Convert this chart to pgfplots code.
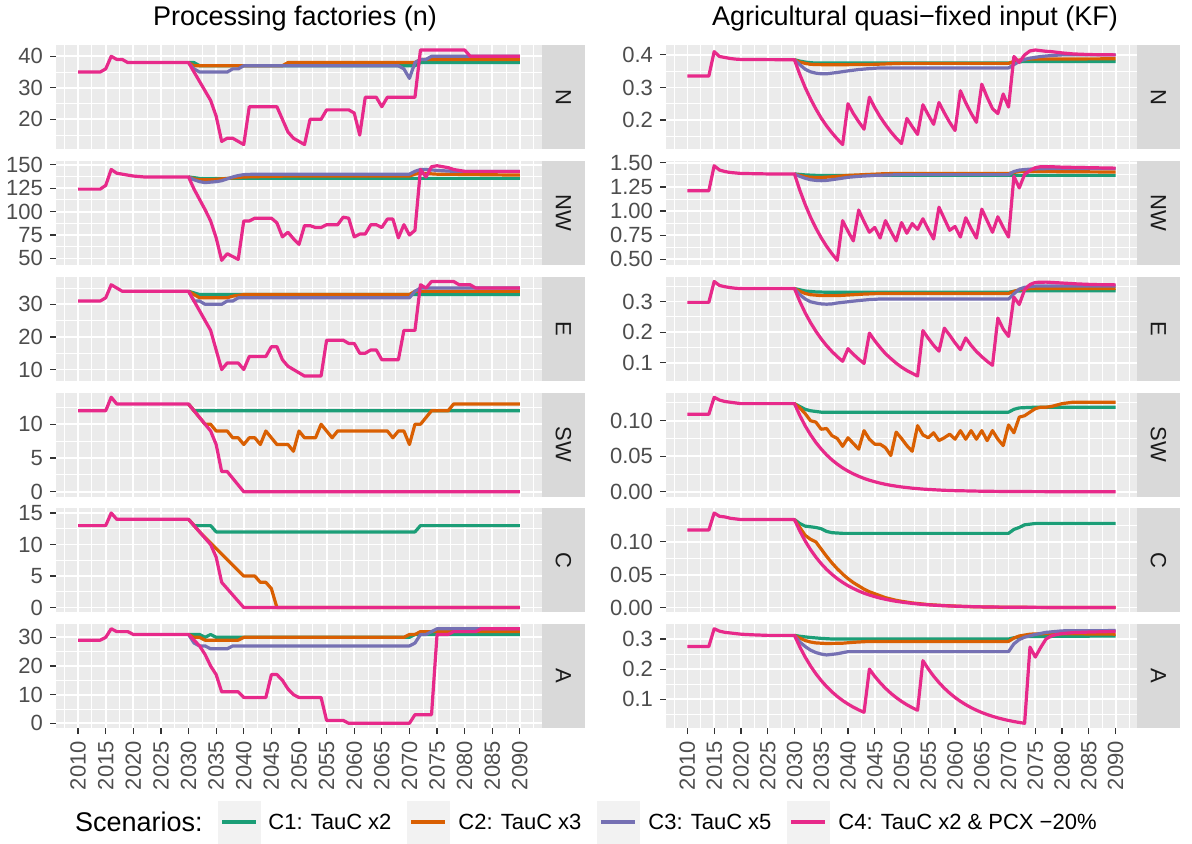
\documentclass[border=0pt]{standalone}
\usepackage{fontspec}
\setmainfont{Liberation Sans}
\usepackage{pgfplots}
\pgfplotsset{compat=1.18}
\definecolor{cOne}{HTML}{1B9E77}
\definecolor{cTwo}{HTML}{D95F02}
\definecolor{cThree}{HTML}{7570B3}
\definecolor{cFour}{HTML}{E7298A}
\definecolor{panelbg}{HTML}{EBEBEB}
\definecolor{stripbg}{HTML}{D9D9D9}
\definecolor{ticklab}{HTML}{4D4D4D}
\definecolor{tickcol}{HTML}{333333}
\definecolor{striptext}{HTML}{1A1A1A}
\definecolor{keybg}{HTML}{F2F2F2}
\newcommand{\tl}{\fontsize{11}{13.2}\selectfont}
\newcommand{\ttl}{\fontsize{13.5}{16}\selectfont}
\pgfplotsset{
  panel/.style={
    scale only axis, anchor=north west,
    xmin=2006, xmax=2094, enlarge x limits=false,
    enlarge y limits=0.05,
    xtick={2010,2015,...,2090},
    minor xtick={2007.5,2012.5,...,2092.5},
    axis background/.style={fill=panelbg},
    axis line style={draw=none},
    grid=both,
    major grid style={white, line width=0.9pt},
    minor grid style={white, line width=0.45pt},
    tick align=outside,
    major tick length=3pt, minor tick length=0pt,
    ytick pos=left, xtick pos=bottom,
    every tick/.style={tickcol, line width=0.6pt},
    yticklabel style={font=\tl, text=ticklab},
    xticklabel style={font=\tl, text=ticklab, rotate=90, anchor=east},
    xticklabels={},
    every axis plot/.append style={line width=1.6pt, line join=round, no marks},
  },
  upper/.style={xtick style={draw=none}},
  bottomrow/.style={xticklabels={2010,2015,2020,2025,2030,2035,2040,2045,2050,2055,2060,2065,2070,2075,2080,2085,2090}},
  L/.style={panel, width=243pt, height=52pt},
  R/.style={panel, width=235.5pt, height=52pt},
  s1/.style={color=cOne}, s2/.style={color=cTwo}, s3/.style={color=cThree}, s4/.style={color=cFour},
}
\begin{document}
\begin{tikzpicture}
\path[use as bounding box] (0,0) rectangle (596pt,-421.5pt);

% ================= LEFT COLUMN =================
% N
\begin{axis}[L, upper, at={(28pt,-22.625pt)}, ytick={20,30,40}, yticklabels={20,30,40}, minor ytick={15,25,35}]
\addplot[s1] coordinates {(2030,38)(2031,38)(2032,37)(2071,37)(2072,38)(2090,38)};
\addplot[s2] coordinates {(2030,38)(2031,37)(2047,37)(2048,38)(2071,38)(2072,39)(2090,39)};
\addplot[s3] coordinates {(2030,38)(2031,36)(2032,35)(2037,35)(2038,36)(2039,36)(2040,37)(2068,37)(2069,36)(2070,33)(2071,38)(2072,39)(2073,39)(2074,40)(2090,40)};
\addplot[s4] coordinates {(2010,35)(2014,35)(2015,36)(2016,40)(2017,39)(2018,39)(2019,38)(2030,38)(2031,35)(2032,32)(2033,29)(2034,26)(2035,21)(2036,13)(2037,14)(2038,14)(2039,13)(2040,12)(2041,24)(2046,24)(2047,20)(2048,16)(2049,14)(2050,13)(2051,12)(2052,20)(2054,20)(2055,23)(2059,23)(2060,22)(2061,15)(2062,27)(2064,27)(2065,24)(2066,27)(2071,27)(2072,42)(2080,42)(2081,40)(2090,40)};
\end{axis}
% NW
\begin{axis}[L, upper, at={(28pt,-80.5pt)}, ytick={50,75,100,125,150}, yticklabels={50,75,100,125,150}, minor ytick={62.5,87.5,112.5,137.5}]
\addplot[s1] coordinates {(2030,137)(2032,135.5)(2090,135.5)};
\addplot[s2] coordinates {(2030,137)(2031,135)(2032,134)(2034,134)(2036,135)(2038,136)(2040,137)(2048,138)(2070,138)(2071,140)(2072,141)(2075,140)(2090,139)};
\addplot[s3] coordinates {(2030,137)(2031,134)(2032,132)(2033,131)(2034,131.5)(2035,132)(2036,133)(2037,135)(2038,137)(2039,138.5)(2040,139.5)(2042,140)(2070,140)(2071,143)(2072,145)(2073,145)(2075,144)(2078,143)(2090,143)};
\addplot[s4] coordinates {(2010,124)(2014,124)(2015,128)(2016,145)(2017,141)(2018,140)(2019,139)(2020,138)(2022,137)(2030,137)(2031,124)(2032,113)(2033,102)(2034,90)(2035,72)(2036,48)(2037,55)(2038,52)(2039,49)(2040,90)(2041,90)(2042,93)(2045,93)(2046,88)(2047,73)(2048,78)(2049,71)(2050,65)(2051,85)(2052,85)(2053,83)(2054,83)(2055,86)(2057,86)(2058,94)(2059,93)(2060,73)(2061,76)(2062,76)(2063,86)(2064,86)(2065,83)(2066,92)(2067,92)(2068,72)(2069,86)(2070,75)(2071,80)(2072,145)(2073,137)(2074,148)(2075,149)(2076,148)(2077,147)(2078,145)(2079,144)(2080,143)(2090,143)};
\end{axis}
% E
\begin{axis}[L, upper, at={(28pt,-138.375pt)}, ytick={10,20,30}, yticklabels={10,20,30}, minor ytick={15,25,35}]
\addplot[s1] coordinates {(2030,34)(2031,33.5)(2032,33)(2090,33)};
\addplot[s2] coordinates {(2030,34)(2031,33)(2032,32)(2037,32)(2038,32.5)(2040,33)(2070,33)(2071,34)(2090,34)};
\addplot[s3] coordinates {(2030,34)(2031,31)(2032,31)(2033,30)(2036,30)(2037,31)(2038,31)(2039,32)(2070,32)(2071,34)(2072,35)(2090,35)};
\addplot[s4] coordinates {(2010,31)(2014,31)(2015,32)(2016,36)(2017,35)(2018,34)(2030,34)(2031,31)(2032,28)(2033,25)(2034,22)(2035,16)(2036,10)(2037,12)(2039,12)(2040,10)(2041,14)(2044,14)(2045,17)(2046,17)(2047,13)(2048,11)(2049,10)(2050,9)(2051,8)(2054,8)(2055,19)(2058,19)(2059,18)(2060,18)(2061,15)(2062,15)(2063,16)(2064,16)(2065,13)(2068,13)(2069,22)(2071,22)(2072,36)(2073,35)(2074,37)(2078,37)(2079,36)(2081,36)(2082,35)(2090,35)};
\end{axis}
% SW
\begin{axis}[L, upper, at={(28pt,-196.25pt)}, ytick={0,5,10}, yticklabels={0,5,10}, minor ytick={2.5,7.5,12.5}]
\addplot[s1] coordinates {(2030,13)(2031,12)(2090,12)};
\addplot[s2] coordinates {(2030,13)(2031,12)(2032,11)(2033,10)(2034,10)(2035,9)(2037,9)(2038,8)(2039,8)(2040,7)(2041,8)(2042,8)(2043,7)(2044,9)(2045,8)(2046,7)(2048,7)(2049,6)(2050,9)(2051,8)(2053,8)(2054,10)(2055,9)(2056,8)(2057,9)(2066,9)(2067,8)(2068,9)(2069,9)(2070,7)(2071,10)(2072,10)(2073,11)(2074,12)(2077,12)(2078,13)(2090,13)};
\addplot[s4] coordinates {(2010,12)(2015,12)(2016,14)(2017,13)(2030,13)(2031,12)(2032,11)(2033,10)(2034,9)(2035,7)(2036,3)(2037,3)(2038,2)(2039,1)(2040,0)(2090,0)};
\end{axis}
% C
\begin{axis}[L, upper, at={(28pt,-254.125pt)}, ytick={0,5,10,15}, yticklabels={0,5,10,15}, minor ytick={2.5,7.5,12.5}]
\addplot[s1] coordinates {(2030,14)(2031,13)(2034,13)(2035,12)(2071,12)(2072,13)(2090,13)};
\addplot[s2] coordinates {(2030,14)(2031,13)(2032,12)(2040,5)(2042,5)(2043,4)(2044,4)(2045,3)(2046,0)(2090,0)};
\addplot[s4] coordinates {(2010,13)(2015,13)(2016,15)(2017,14)(2030,14)(2031,13)(2032,12)(2033,11)(2034,10)(2035,8)(2036,4)(2037,3)(2038,2)(2039,1)(2040,0)(2090,0)};
\end{axis}
% A
\begin{axis}[L, bottomrow, at={(28pt,-312pt)}, ytick={0,10,20,30}, yticklabels={0,10,20,30}, minor ytick={5,15,25}]
\addplot[s1] coordinates {(2030,31)(2032,31)(2033,30)(2034,31)(2035,30)(2070,30)(2071,31)(2090,31)};
\addplot[s2] coordinates {(2030,31)(2031,30)(2032,30)(2033,29)(2039,29)(2040,30)(2069,30)(2070,31)(2071,31)(2072,32)(2090,32)};
\addplot[s3] coordinates {(2030,31)(2031,28)(2032,27)(2033,27)(2034,26)(2037,26)(2038,27)(2070,27)(2071,28)(2072,31)(2073,31)(2074,32)(2075,33)(2090,33)};
\addplot[s4] coordinates {(2010,29)(2014,29)(2015,30)(2016,33)(2017,32)(2019,32)(2020,31)(2030,31)(2031,29)(2032,27)(2033,24)(2034,20)(2035,17)(2036,11)(2039,11)(2040,9)(2044,9)(2045,17)(2046,17)(2047,15)(2048,12)(2049,10)(2050,9)(2054,9)(2055,1)(2058,1)(2059,0)(2070,0)(2071,3)(2074,3)(2075,31)(2077,31)(2078,32)(2082,32)(2083,33)(2090,33)};
\end{axis}

% ================= RIGHT COLUMN =================
% N
\begin{axis}[R, upper, at={(333pt,-22.625pt)}, ytick={0.2,0.3,0.4}, yticklabels={0.2,0.3,0.4}, minor ytick={0.15,0.25,0.35}]
\addplot[s1] coordinates {(2030,0.385)(2031,0.381)(2032,0.378)(2033,0.376)(2034,0.375)(2070,0.375)(2071,0.377)(2072,0.379)(2074,0.38)(2090,0.38)};
\addplot[s2] coordinates {(2030,0.385)(2031,0.378)(2032,0.374)(2033,0.371)(2035,0.37)(2040,0.37)(2045,0.371)(2048,0.373)(2050,0.374)(2070,0.374)(2071,0.38)(2072,0.384)(2074,0.387)(2090,0.388)};
\addplot[s3] coordinates {(2030,0.385)(2031,0.37)(2032,0.356)(2033,0.348)(2034,0.344)(2035,0.342)(2036,0.342)(2037,0.344)(2038,0.346)(2040,0.351)(2042,0.355)(2044,0.358)(2046,0.36)(2070,0.36)(2071,0.37)(2072,0.38)(2073,0.386)(2074,0.39)(2076,0.395)(2078,0.398)(2080,0.4)(2090,0.4)};
\addplot[s4] coordinates {(2010,0.335)(2014,0.335)(2015,0.41)(2016,0.395)(2017,0.392)(2018,0.389)(2019,0.387)(2020,0.386)(2030,0.385)(2031,0.340)(2032,0.300)(2033,0.265)(2034,0.234)(2035,0.206)(2036,0.182)(2037,0.161)(2038,0.142)(2039,0.125)(2040,0.25)(2041,0.22)(2042,0.195)(2043,0.172)(2044,0.27)(2045,0.238)(2046,0.21)(2047,0.186)(2048,0.164)(2049,0.145)(2050,0.128)(2051,0.205)(2052,0.18)(2053,0.156)(2054,0.247)(2055,0.216)(2056,0.187)(2057,0.254)(2058,0.222)(2059,0.193)(2060,0.168)(2061,0.29)(2062,0.253)(2063,0.221)(2064,0.193)(2065,0.31)(2066,0.27)(2067,0.235)(2068,0.22)(2069,0.28)(2070,0.24)(2071,0.395)(2072,0.377)(2073,0.40)(2074,0.412)(2075,0.415)(2076,0.413)(2077,0.411)(2078,0.41)(2079,0.408)(2080,0.406)(2082,0.403)(2085,0.401)(2090,0.4)};
\end{axis}
% NW
\begin{axis}[R, upper, at={(333pt,-80.5pt)}, ytick={0.5,0.75,1,1.25,1.5}, yticklabels={0.50,0.75,1.00,1.25,1.50}, minor ytick={0.625,0.875,1.125,1.375}]
\addplot[s1] coordinates {(2030,1.385)(2031,1.38)(2032,1.375)(2034,1.37)(2090,1.37)};
\addplot[s2] coordinates {(2030,1.385)(2031,1.37)(2032,1.358)(2033,1.35)(2035,1.348)(2037,1.355)(2040,1.37)(2044,1.38)(2047,1.388)(2050,1.39)(2070,1.39)(2071,1.40)(2072,1.41)(2075,1.41)(2090,1.405)};
\addplot[s3] coordinates {(2030,1.385)(2031,1.36)(2032,1.34)(2033,1.325)(2034,1.318)(2035,1.315)(2036,1.318)(2037,1.325)(2038,1.333)(2040,1.35)(2042,1.36)(2045,1.37)(2050,1.378)(2070,1.378)(2071,1.41)(2072,1.425)(2074,1.435)(2077,1.44)(2090,1.44)};
\addplot[s4] coordinates {(2010,1.21)(2014,1.21)(2015,1.47)(2016,1.425)(2017,1.41)(2018,1.40)(2019,1.395)(2020,1.39)(2025,1.385)(2030,1.385)(2031,1.216)(2032,1.068)(2033,0.937)(2034,0.823)(2035,0.722)(2036,0.634)(2037,0.557)(2038,0.489)(2039,0.90)(2040,0.79)(2041,0.69)(2042,1.01)(2043,0.89)(2044,0.78)(2045,0.83)(2046,0.72)(2047,0.90)(2048,0.79)(2049,0.69)(2050,0.88)(2051,0.77)(2052,0.87)(2053,0.81)(2054,0.92)(2055,0.81)(2056,0.71)(2057,1.04)(2058,0.92)(2059,0.80)(2060,0.84)(2061,0.73)(2062,0.93)(2063,0.82)(2064,0.72)(2065,1.02)(2066,0.90)(2067,0.78)(2068,0.94)(2069,0.83)(2070,0.73)(2071,1.36)(2072,1.24)(2073,1.38)(2074,1.42)(2075,1.45)(2076,1.46)(2078,1.46)(2080,1.455)(2085,1.45)(2090,1.445)};
\end{axis}
% E
\begin{axis}[R, upper, at={(333pt,-138.375pt)}, ytick={0.1,0.2,0.3}, yticklabels={0.1,0.2,0.3}, minor ytick={0.15,0.25,0.35}]
\addplot[s1] coordinates {(2030,0.342)(2031,0.338)(2032,0.334)(2034,0.331)(2036,0.33)(2070,0.33)(2071,0.333)(2073,0.335)(2090,0.335)};
\addplot[s2] coordinates {(2030,0.342)(2031,0.333)(2032,0.326)(2033,0.322)(2035,0.319)(2038,0.319)(2040,0.321)(2043,0.324)(2046,0.326)(2070,0.326)(2071,0.333)(2072,0.338)(2074,0.342)(2090,0.342)};
\addplot[s3] coordinates {(2030,0.342)(2031,0.322)(2032,0.308)(2033,0.299)(2034,0.295)(2035,0.292)(2036,0.291)(2037,0.292)(2038,0.295)(2040,0.299)(2042,0.303)(2044,0.306)(2046,0.308)(2070,0.308)(2071,0.325)(2072,0.34)(2073,0.346)(2075,0.35)(2090,0.35)};
\addplot[s4] coordinates {(2010,0.297)(2014,0.297)(2015,0.365)(2016,0.352)(2017,0.348)(2018,0.345)(2019,0.343)(2020,0.342)(2030,0.342)(2031,0.300)(2032,0.263)(2033,0.231)(2034,0.203)(2035,0.178)(2036,0.156)(2037,0.137)(2038,0.120)(2039,0.105)(2040,0.146)(2041,0.128)(2042,0.112)(2043,0.098)(2044,0.197)(2045,0.172)(2046,0.150)(2047,0.130)(2048,0.114)(2049,0.099)(2050,0.086)(2051,0.075)(2052,0.066)(2053,0.057)(2054,0.205)(2055,0.180)(2056,0.157)(2057,0.138)(2058,0.213)(2059,0.190)(2060,0.165)(2061,0.143)(2062,0.181)(2063,0.157)(2064,0.137)(2065,0.120)(2066,0.105)(2067,0.092)(2068,0.246)(2069,0.210)(2070,0.186)(2071,0.314)(2072,0.290)(2073,0.338)(2074,0.355)(2075,0.362)(2077,0.363)(2080,0.36)(2083,0.357)(2086,0.355)(2090,0.354)};
\end{axis}
% SW
\begin{axis}[R, upper, at={(333pt,-196.25pt)}, ytick={0,0.05,0.1}, yticklabels={0.00,0.05,0.10}, minor ytick={0.025,0.075,0.125}]
\addplot[s1] coordinates {(2030,0.124)(2031,0.12)(2032,0.116)(2033,0.114)(2035,0.112)(2070,0.112)(2071,0.116)(2072,0.118)(2075,0.119)(2090,0.119)};
\addplot[s2] coordinates {(2030,0.124)(2031,0.118)(2032,0.11)(2033,0.10)(2034,0.098)(2035,0.088)(2036,0.089)(2037,0.079)(2038,0.075)(2039,0.064)(2040,0.076)(2041,0.068)(2042,0.06)(2043,0.086)(2044,0.074)(2045,0.067)(2046,0.067)(2047,0.062)(2048,0.051)(2049,0.084)(2050,0.075)(2051,0.065)(2052,0.057)(2053,0.093)(2054,0.080)(2055,0.076)(2056,0.083)(2057,0.072)(2058,0.076)(2059,0.081)(2060,0.074)(2061,0.086)(2062,0.074)(2063,0.086)(2064,0.074)(2065,0.086)(2066,0.072)(2067,0.086)(2068,0.074)(2069,0.065)(2070,0.094)(2071,0.083)(2072,0.105)(2073,0.107)(2074,0.112)(2075,0.117)(2076,0.119)(2077,0.119)(2078,0.12)(2079,0.122)(2080,0.124)(2082,0.126)(2090,0.126)};
\addplot[s4] coordinates {(2010,0.109)(2014,0.109)(2015,0.133)(2016,0.129)(2017,0.127)(2018,0.126)(2019,0.125)(2020,0.124)(2030,0.124)(2031,0.1073)(2032,0.0928)(2033,0.0803)(2034,0.0694)(2035,0.0601)(2036,0.0519)(2037,0.0449)(2038,0.0389)(2039,0.0336)(2040,0.0291)(2041,0.0252)(2042,0.0218)(2043,0.0188)(2044,0.0163)(2045,0.0141)(2046,0.0122)(2047,0.0105)(2048,0.0091)(2049,0.0079)(2050,0.0068)(2052,0.0051)(2054,0.0038)(2056,0.0029)(2058,0.0021)(2060,0.0016)(2065,0.0008)(2070,0.0004)(2080,0.0001)(2090,0)};
\end{axis}
% C
\begin{axis}[R, upper, at={(333pt,-254.125pt)}, ytick={0,0.05,0.1}, yticklabels={0.00,0.05,0.10}, minor ytick={0.025,0.075,0.125}]
\addplot[s1] coordinates {(2030,0.134)(2031,0.128)(2032,0.124)(2034,0.122)(2035,0.12)(2036,0.116)(2037,0.114)(2039,0.113)(2070,0.113)(2071,0.119)(2072,0.122)(2073,0.126)(2075,0.128)(2090,0.128)};
\addplot[s2] coordinates {(2030,0.134)(2031,0.122)(2032,0.11)(2033,0.104)(2034,0.10)(2035,0.089)(2036,0.078)(2037,0.068)(2038,0.059)(2039,0.051)(2040,0.044)(2041,0.038)(2042,0.033)(2043,0.028)(2044,0.024)(2045,0.021)(2046,0.018)(2047,0.015)(2048,0.013)(2049,0.011)(2050,0.0095)(2052,0.007)(2055,0.0045)(2058,0.003)(2062,0.0015)(2066,0.0008)(2070,0.0004)(2080,0.0001)(2090,0)};
\addplot[s4] coordinates {(2010,0.118)(2014,0.118)(2015,0.144)(2016,0.139)(2017,0.138)(2018,0.136)(2019,0.135)(2020,0.134)(2030,0.134)(2031,0.1166)(2032,0.1014)(2033,0.0882)(2034,0.0768)(2035,0.0668)(2036,0.0581)(2037,0.0506)(2038,0.0440)(2039,0.0383)(2040,0.0333)(2041,0.0290)(2042,0.0252)(2043,0.0219)(2044,0.0191)(2045,0.0166)(2046,0.0144)(2047,0.0126)(2048,0.0109)(2049,0.0095)(2050,0.0083)(2052,0.0063)(2054,0.0047)(2056,0.0036)(2058,0.0027)(2060,0.0021)(2065,0.0010)(2070,0.0005)(2080,0.0001)(2090,0)};
\end{axis}
% A
\begin{axis}[R, bottomrow, at={(333pt,-312pt)}, ytick={0.1,0.2,0.3}, yticklabels={0.1,0.2,0.3}, minor ytick={0.05,0.15,0.25}]
\addplot[s1] coordinates {(2030,0.312)(2031,0.309)(2033,0.305)(2035,0.302)(2037,0.30)(2070,0.30)(2071,0.304)(2073,0.308)(2090,0.31)};
\addplot[s2] coordinates {(2030,0.312)(2031,0.303)(2032,0.295)(2033,0.29)(2034,0.287)(2036,0.285)(2039,0.286)(2041,0.289)(2044,0.292)(2070,0.292)(2071,0.303)(2072,0.31)(2074,0.316)(2077,0.318)(2090,0.316)};
\addplot[s3] coordinates {(2030,0.312)(2031,0.29)(2032,0.275)(2033,0.263)(2034,0.255)(2035,0.25)(2036,0.247)(2037,0.249)(2038,0.251)(2040,0.258)(2070,0.258)(2071,0.284)(2072,0.298)(2073,0.306)(2075,0.315)(2077,0.322)(2080,0.327)(2090,0.328)};
\addplot[s4] coordinates {(2010,0.275)(2014,0.275)(2015,0.334)(2016,0.326)(2017,0.322)(2018,0.32)(2019,0.318)(2020,0.316)(2022,0.314)(2025,0.312)(2030,0.312)(2031,0.2736)(2032,0.2400)(2033,0.2104)(2034,0.1846)(2035,0.1619)(2036,0.1420)(2037,0.1245)(2038,0.1092)(2039,0.0957)(2040,0.0840)(2041,0.0736)(2042,0.0646)(2043,0.0566)(2044,0.200)(2045,0.176)(2046,0.1549)(2047,0.1363)(2048,0.1199)(2049,0.1055)(2050,0.0929)(2051,0.0817)(2052,0.0719)(2053,0.0633)(2054,0.228)(2055,0.2006)(2056,0.1766)(2057,0.1554)(2058,0.1367)(2059,0.1203)(2060,0.1059)(2061,0.0932)(2062,0.0820)(2063,0.0721)(2064,0.0635)(2065,0.0559)(2066,0.0492)(2067,0.0433)(2068,0.0381)(2069,0.0335)(2070,0.0295)(2071,0.0259)(2072,0.0228)(2073,0.0201)(2074,0.273)(2075,0.240)(2076,0.272)(2077,0.300)(2078,0.310)(2079,0.315)(2080,0.318)(2082,0.321)(2085,0.323)(2090,0.325)};
\end{axis}

% ================= STRIPS =================
\foreach \t/\lab in {22.625/N, 80.5/NW, 138.375/E, 196.25/SW, 254.125/C, 312/A}{
  \fill[stripbg] (271pt,-\t pt) rectangle (292.5pt,-\t pt-52pt);
  \fill[stripbg] (568.5pt,-\t pt) rectangle (590pt,-\t pt-52pt);
  \node[rotate=-90, text=striptext, font=\tl] at (281.75pt,-\t pt-26pt) {\lab};
  \node[rotate=-90, text=striptext, font=\tl] at (579.25pt,-\t pt-26pt) {\lab};
}

% ================= TITLES =================
\node[font=\ttl] at (147.5pt,-9.5pt) {Processing factories (n)};
\node[font=\ttl] at (457.5pt,-9.5pt) {Agricultural quasi−fixed input (KF)};

% ================= LEGEND =================
\node[font=\ttl, anchor=west] at (34pt,-411pt) {Scenarios:};
\foreach \cx/\col in {119.5/cOne, 214/cTwo, 309/cThree, 404/cFour}{
  \fill[keybg] (\cx pt-10.75pt,-400.25pt) rectangle (\cx pt+10.75pt,-421.75pt);
  \draw[\col, line width=1.6pt] (\cx pt-8.5pt,-411pt) -- (\cx pt+8.5pt,-411pt);
}
\node[font=\tl, anchor=west, inner sep=0pt] at (134pt,-411pt) {C1: TauC x2};
\node[font=\tl, anchor=west, inner sep=0pt] at (229pt,-411pt) {C2: TauC x3};
\node[font=\tl, anchor=west, inner sep=0pt] at (324pt,-411pt) {C3: TauC x5};
\node[font=\tl, anchor=west, inner sep=0pt] at (419pt,-411pt) {C4: TauC x2 \& PCX −20\%};
\end{tikzpicture}
\end{document}
